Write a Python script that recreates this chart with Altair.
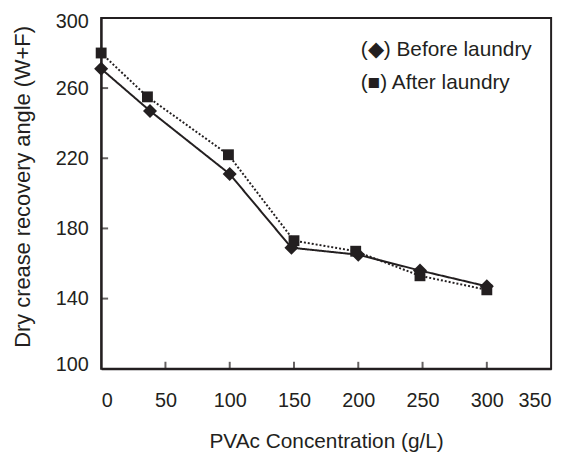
import altair as alt
import pandas as pd

# Data
before_x = [0, 38, 100, 148, 200, 248, 300]
before_y = [271, 247, 211, 169, 165, 156, 147]
after_x = [0, 36, 99, 150, 198, 248, 300]
after_y = [280, 255, 222, 173, 167, 153, 145]
series_names = ["Before laundry", "After laundry"]
legend_labels = ["(\u25c6) Before laundry", "(\u25a0) After laundry"]
x_ticks = [0, 50, 100, 150, 200, 250, 300, 350]
y_ticks = [100, 140, 180, 220, 260, 300]
x_inner_ticks = [50, 100, 150, 200, 250, 300]
y_inner_ticks = [140, 180, 220, 260]

INK = "#231f20"
FONT = "Liberation Sans"
W, H = 454, 354

df = pd.DataFrame({
    "x": before_x + after_x,
    "y": before_y + after_y,
    "series": [series_names[0]] * len(before_x) + [series_names[1]] * len(after_x),
})

xscale = alt.Scale(domain=[0, 350], nice=False, zero=False)
yscale = alt.Scale(domain=[100, 300], nice=False, zero=False)

xaxis = alt.Axis(values=x_ticks, ticks=False, grid=False, domainColor=INK, domainWidth=2,
                 labelFont=FONT, labelFontSize=20, labelColor=INK, labelPadding=22,
                 title="PVAc Concentration (g/L)", titleFont=FONT, titleFontSize=21,
                 titleFontWeight="normal", titleColor=INK, titlePadding=20)
yaxis = alt.Axis(values=y_ticks, ticks=False, grid=False, domainColor=INK, domainWidth=2,
                 labelFont=FONT, labelFontSize=20, labelColor=INK, labelPadding=13,
                 title="Dry crease recovery angle (W+F)", titleFont=FONT, titleFontSize=22,
                 titleFontWeight="normal", titleColor=INK, titlePadding=21, titleY=170,
                 labelOffset={"condition": [{"test": "datum.value == 300", "value": 4},
                                            {"test": "datum.value == 100", "value": -4}],
                              "value": 0})

base = alt.Chart(df)

lines = base.mark_line(color=INK, strokeWidth=2).encode(
    x=alt.X("x:Q", scale=xscale, axis=xaxis),
    y=alt.Y("y:Q", scale=yscale, axis=yaxis),
    strokeDash=alt.StrokeDash("series:N", scale=alt.Scale(domain=series_names, range=[[1, 0], [2, 2]]), legend=None),
    detail="series:N",
)

points = base.mark_point(filled=True, color=INK, opacity=1).encode(
    x=alt.X("x:Q", scale=xscale),
    y=alt.Y("y:Q", scale=yscale),
    shape=alt.Shape("series:N", scale=alt.Scale(domain=series_names, range=["diamond", "square"]), legend=None),
    size=alt.Size("series:N", scale=alt.Scale(domain=series_names, range=[200, 120]), legend=None),
)

xt = alt.Chart(pd.DataFrame({"t": x_inner_ticks})).mark_tick(
    color=INK, thickness=2, size=7, yOffset=-3.5, orient="vertical"
).encode(x=alt.X("t:Q", scale=xscale), y=alt.value(H))

yt = alt.Chart(pd.DataFrame({"t": y_inner_ticks})).mark_tick(
    color=INK, thickness=2, size=7, xOffset=3.5, orient="horizontal"
).encode(y=alt.Y("t:Q", scale=yscale), x=alt.value(0))

leg1 = alt.Chart(pd.DataFrame({"a": [0]})).mark_text(
    align="left", baseline="middle", font=FONT, fontSize=21, color=INK
).encode(x=alt.value(262), y=alt.value(32), text=alt.value(legend_labels[0]))
leg2 = alt.Chart(pd.DataFrame({"a": [0]})).mark_text(
    align="left", baseline="middle", font=FONT, fontSize=21, color=INK
).encode(x=alt.value(262), y=alt.value(66), text=alt.value(legend_labels[1]))

chart = alt.layer(lines, points, xt, yt, leg1, leg2).properties(
    width=W, height=H,
    autosize=alt.AutoSizeParams(type="none"),
    padding={"left": 94, "top": 8, "right": 12, "bottom": 84},
    background="white",
).configure_view(stroke=INK, strokeWidth=2)

chart.save("out.html", embed_options={"renderer": "svg", "actions": False})
